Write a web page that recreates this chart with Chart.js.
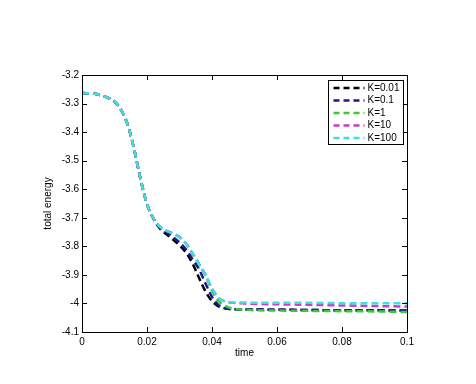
<!DOCTYPE html>
<html>
<head>
<meta charset="utf-8">
<script src="https://cdn.jsdelivr.net/npm/chart.js@4/dist/chart.umd.min.js"></script>
<style>
html,body{margin:0;padding:0;background:#fff;}
canvas{display:block;}
</style>
</head>
<body>
<canvas id="c" width="476" height="384"></canvas>
<script>
// ---- data ----
const time = [0, 0.004, 0.008, 0.010, 0.012, 0.014, 0.016, 0.018, 0.020, 0.022, 0.024, 0.026, 0.028, 0.030, 0.032, 0.034, 0.036, 0.038, 0.040, 0.042, 0.044, 0.046, 0.050, 0.060, 0.070, 0.080, 0.090, 0.100];
const seriesLabels = ["K=0.01", "K=0.1", "K=1", "K=10", "K=100"];
const k001 = [-3.263, -3.266, -3.280, -3.293, -3.322, -3.372, -3.458, -3.564, -3.652, -3.704, -3.738, -3.758, -3.776, -3.797, -3.822, -3.860, -3.910, -3.958, -3.992, -4.010, -4.017, -4.020, -4.021, -4.022, -4.023, -4.024, -4.024, -4.025];
const k01  = [-3.263, -3.266, -3.280, -3.293, -3.322, -3.372, -3.458, -3.564, -3.652, -3.703, -3.736, -3.752, -3.768, -3.786, -3.810, -3.845, -3.880, -3.930, -3.977, -4.006, -4.017, -4.020, -4.021, -4.022, -4.023, -4.024, -4.024, -4.025];
const k1   = [-3.263, -3.266, -3.280, -3.293, -3.322, -3.372, -3.458, -3.564, -3.652, -3.702, -3.733, -3.746, -3.756, -3.768, -3.790, -3.825, -3.862, -3.902, -3.955, -3.992, -4.008, -4.017, -4.022, -4.025, -4.026, -4.027, -4.028, -4.030];
const k10  = [-3.263, -3.266, -3.280, -3.293, -3.322, -3.372, -3.458, -3.564, -3.652, -3.702, -3.732, -3.745, -3.755, -3.767, -3.790, -3.825, -3.862, -3.900, -3.948, -3.980, -3.993, -3.997, -4.000, -4.003, -4.005, -4.007, -4.009, -4.011];
const k100 = [-3.263, -3.266, -3.280, -3.293, -3.322, -3.372, -3.458, -3.564, -3.652, -3.702, -3.732, -3.745, -3.755, -3.767, -3.790, -3.825, -3.862, -3.900, -3.948, -3.980, -3.993, -3.996, -3.997, -3.998, -3.998, -3.999, -3.999, -3.999];
const seriesValues = [k001, k01, k1, k10, k100];
const seriesColors = ["#000000", "#1a1a8c", "#3cc83c", "#c83cc8", "#3ce0e0"];
const xTicks = [0, 0.02, 0.04, 0.06, 0.08, 0.1];
const yTicks = [-3.2, -3.3, -3.4, -3.5, -3.6, -3.7, -3.8, -3.9, -4, -4.1];
const xTitle = "time";
const yTitle = "total energy";

const FONT = "'Liberation Sans', Arial, sans-serif";

const datasets = seriesLabels.map((lab, i) => ({
  label: lab,
  data: time.map((t, j) => ({x: t, y: seriesValues[i][j]})),
  borderColor: seriesColors[i],
  backgroundColor: seriesColors[i],
  borderWidth: 2.5,
  borderDash: [7, 4],
  pointRadius: 0,
  fill: false,
  cubicInterpolationMode: 'monotone',
  order: seriesLabels.length - i
}));

const framePlugin = {
  id: 'frame',
  afterDraw(chart) {
    const ctx = chart.ctx;
    const a = chart.chartArea;
    const xs = chart.scales.x, ys = chart.scales.y;
    ctx.save();
    ctx.strokeStyle = '#000';
    ctx.lineWidth = 1;
    ctx.strokeRect(Math.round(a.left) + 0.5, Math.round(a.top) + 0.5, Math.round(a.right - a.left), Math.round(a.bottom - a.top));
    ctx.beginPath();
    const tl = 5;
    xTicks.forEach(v => {
      const px = Math.round(xs.getPixelForValue(v)) + 0.5;
      ctx.moveTo(px, a.bottom); ctx.lineTo(px, a.bottom - tl);
      ctx.moveTo(px, a.top); ctx.lineTo(px, a.top + tl);
    });
    yTicks.forEach(v => {
      const py = Math.round(ys.getPixelForValue(v)) + 0.5;
      ctx.moveTo(a.left, py); ctx.lineTo(a.left + tl, py);
      ctx.moveTo(a.right, py); ctx.lineTo(a.right - tl, py);
    });
    ctx.stroke();

    // legend
    const bw = 75, bh = 64;
    const bx = Math.round(a.right - 4 - bw) + 0.5, by = Math.round(a.top + 5) + 0.5;
    ctx.fillStyle = '#fff';
    ctx.fillRect(bx, by, bw, bh);
    ctx.strokeStyle = '#000';
    ctx.strokeRect(bx, by, bw, bh);
    ctx.font = '10px ' + FONT;
    ctx.textBaseline = 'middle';
    ctx.textAlign = 'left';
    chart.data.datasets.forEach((ds, i) => {
      const yy = by + 7.5 + i * 12.5;
      ctx.beginPath();
      ctx.strokeStyle = ds.borderColor;
      ctx.lineWidth = 2.5;
      ctx.setLineDash([6, 4]);
      ctx.moveTo(bx + 5, yy); ctx.lineTo(bx + 36, yy);
      ctx.stroke();
      ctx.setLineDash([]);
      ctx.fillStyle = '#000';
      ctx.fillText(ds.label, bx + 39, yy);
    });
    ctx.restore();
  }
};

new Chart(document.getElementById('c'), {
  type: 'line',
  data: { datasets },
  options: {
    responsive: false,
    animation: false,
    layout: { padding: { top: 75, right: 69, bottom: 0, left: 0 } },
    plugins: { legend: { display: false }, tooltip: { enabled: false } },
    scales: {
      x: {
        type: 'linear', min: 0, max: 0.1,
        afterBuildTicks: s => { s.ticks = xTicks.map(v => ({value: v})); },
        afterFit: s => { s.height = 52; },
        grid: { display: false, drawTicks: false },
        border: { display: false },
        ticks: { color: '#000', font: { family: FONT, size: 10 }, padding: 4, maxRotation: 0,
          callback: v => String(Math.round(v * 1000) / 1000) },
        title: { display: true, text: xTitle, color: '#000', font: { family: FONT, size: 10 }, padding: { top: 25, bottom: 25 } }
      },
      y: {
        type: 'linear', min: -4.1, max: -3.2,
        afterBuildTicks: s => { s.ticks = yTicks.map(v => ({value: v})); },
        afterFit: s => { s.width = 82; },
        grid: { display: false, drawTicks: false },
        border: { display: false },
        ticks: { color: '#000', font: { family: FONT, size: 10 }, padding: 3,
          callback: v => String(Math.round(v * 100) / 100) },
        title: { display: true, text: yTitle, color: '#000', font: { family: FONT, size: 10 }, padding: { top: 42, bottom: 42 } }
      }
    }
  },
  plugins: [framePlugin]
});
</script>
</body>
</html>
